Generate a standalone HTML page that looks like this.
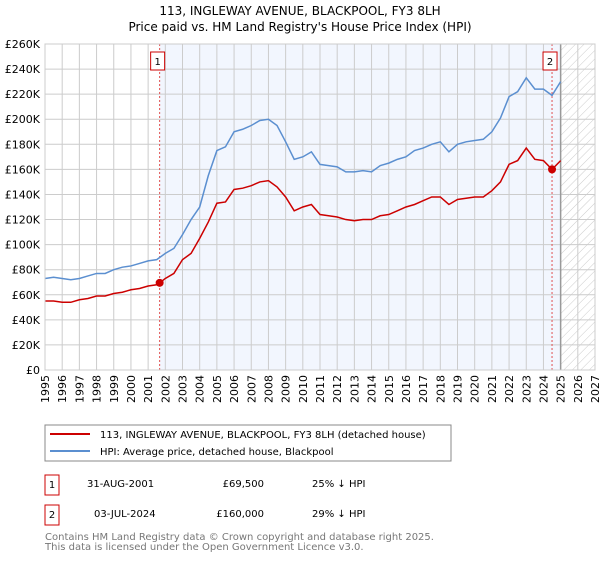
<!DOCTYPE html>
<html><head><meta charset="utf-8"><style>
body{margin:0;background:#fff;font-family:"DejaVu Sans","Liberation Sans",sans-serif;}
svg text{font-family:"DejaVu Sans","Liberation Sans",sans-serif;}
</style></head><body>
<svg id="chart" width="600" height="560" viewBox="0 0 600 560" xmlns="http://www.w3.org/2000/svg">
<defs><pattern id="hatch" width="6" height="6" patternUnits="userSpaceOnUse" patternTransform="rotate(45)"><line x1="0" y1="0" x2="0" y2="6" stroke="#ccc" stroke-width="1"/></pattern></defs>
<text x="300" y="15" text-anchor="middle" font-size="12">113, INGLEWAY AVENUE, BLACKPOOL, FY3 8LH</text>
<text x="300" y="31" text-anchor="middle" font-size="12">Price paid vs. HM Land Registry's House Price Index (HPI)</text>
<g id="plot"></g>
<rect x="45" y="425" width="406" height="36" fill="#fff" stroke="#888"/>
<line x1="50" y1="434" x2="90" y2="434" stroke="#cc0000" stroke-width="2"/>
<text x="100" y="438" font-size="10">113, INGLEWAY AVENUE, BLACKPOOL, FY3 8LH (detached house)</text>
<line x1="50" y1="451" x2="90" y2="451" stroke="#5b8fd0" stroke-width="2"/>
<text x="100" y="455" font-size="10">HPI: Average price, detached house, Blackpool</text>
<g font-size="10">
<rect x="45" y="475" width="14" height="20" fill="#fff" stroke="#cc0000"/>
<text x="52" y="488" text-anchor="middle">1</text>
<text x="87" y="487">31-AUG-2001</text><text x="264" y="487" text-anchor="end">£69,500</text><text x="312" y="487">25% ↓ HPI</text>
<rect x="45" y="505" width="14" height="20" fill="#fff" stroke="#cc0000"/>
<text x="52" y="518" text-anchor="middle">2</text>
<text x="94" y="517">03-JUL-2024</text><text x="264" y="517" text-anchor="end">£160,000</text><text x="312" y="517">29% ↓ HPI</text>
</g>
<text x="45" y="540" font-size="10" fill="#777">Contains HM Land Registry data © Crown copyright and database right 2025.</text>
<text x="45" y="550" font-size="10" fill="#777">This data is licensed under the Open Government Licence v3.0.</text>
</svg>
<script>
const hpiYears=[1995,1995.5,1996,1996.5,1997,1997.5,1998,1998.5,1999,1999.5,2000,2000.5,2001,2001.5,2002,2002.5,2003,2003.5,2004,2004.5,2005,2005.5,2006,2006.5,2007,2007.5,2008,2008.5,2009,2009.5,2010,2010.5,2011,2011.5,2012,2012.5,2013,2013.5,2014,2014.5,2015,2015.5,2016,2016.5,2017,2017.5,2018,2018.5,2019,2019.5,2020,2020.5,2021,2021.5,2022,2022.5,2023,2023.5,2024,2024.5,2025];
const hpiValues=[73,74,73,72,73,75,77,77,80,82,83,85,87,88,93,97,108,120,130,155,175,178,190,192,195,199,200,195,182,168,170,174,164,163,162,158,158,159,158,163,165,168,170,175,177,180,182,174,180,182,183,184,190,201,218,222,233,224,224,219,230];
const propYears=[1995,1995.5,1996,1996.5,1997,1997.5,1998,1998.5,1999,1999.5,2000,2000.5,2001,2001.5,2001.67,2002,2002.5,2003,2003.5,2004,2004.5,2005,2005.5,2006,2006.5,2007,2007.5,2008,2008.5,2009,2009.5,2010,2010.5,2011,2011.5,2012,2012.5,2013,2013.5,2014,2014.5,2015,2015.5,2016,2016.5,2017,2017.5,2018,2018.5,2019,2019.5,2020,2020.5,2021,2021.5,2022,2022.5,2023,2023.5,2024,2024.5,2025];
const propValues=[55,55,54,54,56,57,59,59,61,62,64,65,67,68,69.5,73,77,88,93,105,118,133,134,144,145,147,150,151,146,138,127,130,132,124,123,122,120,119,120,120,123,124,127,130,132,135,138,138,132,136,137,138,138,143,150,164,167,177,168,167,160,167];
const saleYears=[2001.67,2024.5];
const saleValues=[69.5,160];
const saleLabels=["1","2"];
const yTicks=[0,20,40,60,80,100,120,140,160,180,200,220,240,260];
const yTickLabels=["£0","£20K","£40K","£60K","£80K","£100K","£120K","£140K","£160K","£180K","£200K","£220K","£240K","£260K"];
const xTicks=[1995,1996,1997,1998,1999,2000,2001,2002,2003,2004,2005,2006,2007,2008,2009,2010,2011,2012,2013,2014,2015,2016,2017,2018,2019,2020,2021,2022,2023,2024,2025,2026,2027];

const NS="http://www.w3.org/2000/svg";
const X0=45,X1=595,Y0=370,Y1=44;
const xs=y=>X0+(y-1995)/(2027-1995)*(X1-X0);
const ys=v=>Y0-v/260*(Y0-Y1);
const g=document.getElementById('plot');
function mk(t,a){const e=document.createElementNS(NS,t);for(const k in a)e.setAttribute(k,a[k]);g.appendChild(e);return e;}
let e=mk('rect',{x:xs(2001.67),y:Y1,width:xs(2025)-xs(2001.67),height:Y0-Y1,fill:'#f2f6fe'});


e=mk('rect',{x:xs(2025),y:Y1,width:X1-xs(2025),height:Y0-Y1,fill:'url(#hatch)'});


yTicks.forEach((v,i)=>{
 e=mk('line',{x1:X0,x2:X1,y1:ys(v),y2:ys(v),stroke:'#ccc','stroke-width':1});
 
 
 e=mk('text',{x:X0-5,y:ys(v)+4,'text-anchor':'end','font-size':11});
 e.textContent=yTickLabels[i];
 
 
});
xTicks.forEach(y=>{
 e=mk('line',{x1:xs(y),x2:xs(y),y1:Y1,y2:Y0,stroke:'#ccc','stroke-width':1});
 
 
 e=mk('text',{x:0,y:0,'text-anchor':'end','font-size':11,transform:`translate(${xs(y)+4},${Y0+5}) rotate(-90)`});
 e.textContent=y;
 
 
});
e=mk('line',{x1:xs(2025),x2:xs(2025),y1:Y1,y2:Y0,stroke:'#999','stroke-width':1.5});


saleYears.forEach((y,i)=>{
 e=mk('line',{x1:xs(y),x2:xs(y),y1:Y1,y2:Y0,stroke:'#e05050','stroke-width':1,'stroke-dasharray':'2,2'});
 
 
});
function line(xa,va,col,name){
 e=mk('polyline',{points:xa.map((y,i)=>xs(y)+','+ys(va[i])).join(' '),fill:'none',stroke:col,'stroke-width':1.5});
 
 
}
line(hpiYears,hpiValues,'#5b8fd0','hpi-line');
line(propYears,propValues,'#cc0000','property-line');
saleYears.forEach((y,i)=>{
 e=mk('circle',{cx:xs(y),cy:ys(saleValues[i]),r:4,fill:'#cc0000'});
 
 
 e=mk('rect',{x:xs(y)-9,y:52,width:14,height:18,fill:'#fff',stroke:'#cc0000'});
 
 
 e=mk('text',{x:xs(y)-2,y:65,'text-anchor':'middle','font-size':10});
 e.textContent=saleLabels[i];
 
 
});
e=mk('rect',{x:X0,y:Y1,width:X1-X0,height:Y0-Y1,fill:'none',stroke:'#ccc'});


</script>
</body></html>
